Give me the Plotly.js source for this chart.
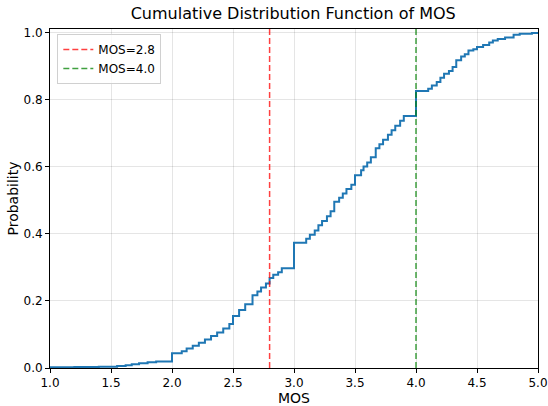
<!DOCTYPE html>
<html>
<head>
<meta charset="utf-8">
<script src="https://cdn.plot.ly/plotly-3.0.1.min.js"></script>
<style>html,body{margin:0;padding:0;background:#fff;}#chart{width:548px;height:406px;}</style>
</head>
<body>
<div id="chart"></div>
<script>
const mosValues = [1.00,1.20,1.40,1.55,1.62,1.67,1.73,1.80,1.87,2.00,2.08,2.12,2.17,2.22,2.27,2.32,2.37,2.42,2.47,2.50,2.55,2.60,2.66,2.70,2.73,2.77,2.80,2.83,2.87,2.90,3.00,3.10,3.13,3.17,3.20,3.23,3.27,3.30,3.33,3.37,3.40,3.43,3.47,3.50,3.55,3.57,3.60,3.63,3.67,3.70,3.73,3.77,3.80,3.83,3.87,3.90,4.00,4.10,4.13,4.17,4.20,4.23,4.27,4.30,4.33,4.37,4.40,4.43,4.47,4.50,4.55,4.60,4.63,4.67,4.73,4.80,4.85,4.95,5.00];
const cdfValues = [0.002,0.003,0.004,0.006,0.008,0.011,0.014,0.017,0.019,0.044,0.050,0.058,0.066,0.075,0.085,0.095,0.106,0.118,0.131,0.155,0.173,0.190,0.217,0.228,0.240,0.252,0.268,0.278,0.285,0.297,0.373,0.385,0.397,0.410,0.425,0.438,0.452,0.467,0.495,0.507,0.520,0.533,0.546,0.574,0.589,0.600,0.612,0.628,0.655,0.667,0.680,0.695,0.708,0.722,0.737,0.751,0.825,0.832,0.842,0.852,0.865,0.877,0.885,0.897,0.917,0.928,0.935,0.946,0.950,0.956,0.962,0.970,0.976,0.980,0.985,0.993,0.996,0.998,1.000];
const thresholds = [2.8, 4.0];
const thresholdLabels = ['MOS=2.8', 'MOS=4.0'];
const thresholdColors = ['rgba(255,0,0,0.75)', 'rgba(0,128,0,0.75)'];
const xTicks = [1.0,1.5,2.0,2.5,3.0,3.5,4.0,4.5,5.0];
const yTicks = [0.0,0.2,0.4,0.6,0.8,1.0];

const traces = [{
  x: mosValues, y: cdfValues, type: 'scatter', mode: 'lines',
  line: {shape: 'hv', color: '#1f77b4', width: 2},
  showlegend: false, hoverinfo: 'x+y'
}];
thresholds.forEach((t, i) => {
  traces.push({
    x: [t, t], y: [0, 1.01], type: 'scatter', mode: 'lines',
    name: thresholdLabels[i],
    line: {color: thresholdColors[i], width: 1.5, dash: '6px,3px'}
  });
});

const font = {family: 'DejaVu Sans, sans-serif', color: '#000'};
const layout = {
  width: 548, height: 406,
  margin: {l: 50, r: 10, t: 29, b: 38},
  paper_bgcolor: '#fff', plot_bgcolor: '#fff',
  font: Object.assign({size: 12}, font),
  title: {text: 'Cumulative Distribution Function of MOS', font: Object.assign({size: 16}, font), x: 0.535, xanchor: 'center', y: 0.968, yanchor: 'middle'},
  xaxis: {
    range: [1, 5], tickvals: xTicks, ticktext: xTicks.map(v => v.toFixed(1)),
    ticks: 'outside', ticklen: 4, tickcolor: '#000', showline: true, linecolor: '#000', linewidth: 1, mirror: true,
    showgrid: true, gridcolor: 'rgba(0,0,0,0.1)', zeroline: false,
    title: {text: 'MOS', font: Object.assign({size: 14}, font), standoff: 3},
    tickfont: Object.assign({size: 12}, font)
  },
  yaxis: {
    range: [0, 1.01], tickvals: yTicks, ticktext: yTicks.map(v => v.toFixed(1)),
    ticks: 'outside', ticklen: 4, tickcolor: '#000', showline: true, linecolor: '#000', linewidth: 1, mirror: true,
    showgrid: true, gridcolor: 'rgba(0,0,0,0.1)', zeroline: false,
    title: {text: 'Probability', font: Object.assign({size: 14}, font), standoff: 1},
    tickfont: Object.assign({size: 12}, font)
  },
  legend: {
    x: 0.015, y: 0.985, xanchor: 'left', yanchor: 'top',
    bgcolor: 'rgba(255,255,255,0.8)', bordercolor: '#d0d0d0', borderwidth: 1,
    font: Object.assign({size: 12}, font), tracegroupgap: 0
  },
  showlegend: true
};
Plotly.newPlot('chart', traces, layout, {displayModeBar: false, staticPlot: true});
</script>
</body>
</html>
